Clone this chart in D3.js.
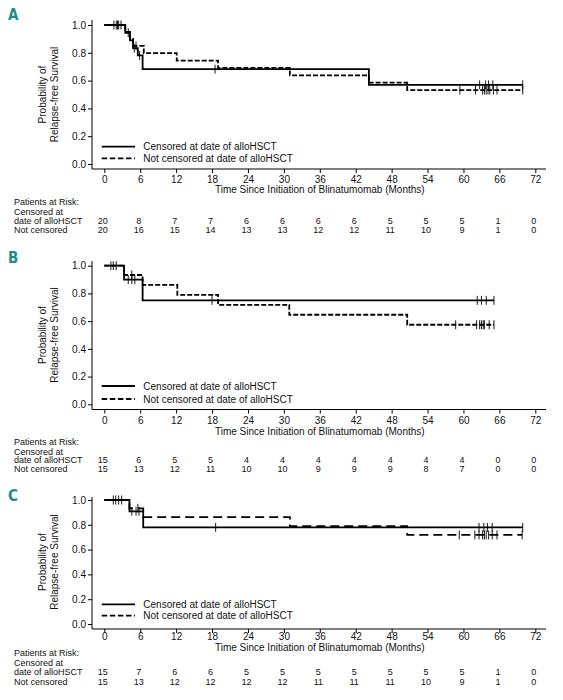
<!DOCTYPE html>
<html>
<head>
<meta charset="utf-8">
<script src="https://cdn.jsdelivr.net/npm/d3@7/dist/d3.min.js"></script>
<style>
  html, body { margin: 0; padding: 0; background: #fff; }
  svg { display: block; }
  text { font-family: "Liberation Sans", Arial, Helvetica, sans-serif; fill: #111; }
</style>
</head>
<body>
<script>
// ---------- DATA ----------
const xTicks = [0, 6, 12, 18, 24, 30, 36, 42, 48, 54, 60, 66, 72];
const yTicks = [0, 0.2, 0.4, 0.6, 0.8, 1.0];
const panelLetters = ["A", "B", "C"];
const legendLabels = ["Censored at date of alloHSCT", "Not censored at date of alloHSCT"];
const xTitle = "Time Since Initiation of Blinatumomab (Months)";
const yTitle = ["Probability of", "Relapse-free Survival"];
const riskHeader = "Patients at Risk:";
const riskRowLabels = [["Censored at", "date of alloHSCT"], ["Not censored"]];

// Panel A  (step: [time, survival after step])
const aSolidSteps = [[0, 1], [3.5, 0.944], [4.3, 0.889], [4.8, 0.833], [5.6, 0.781], [6.4, 0.683], [44.2, 0.569]];
const aSolidEnd = 69.9;
const aSolidCensor = [1.6, 2.0, 2.4, 2.8, 4.0, 5.0, 5.9, 18.5, 62.7, 63.7, 64.2, 64.9, 69.9];
const aDashSteps = [[0, 1], [3.5, 0.95], [4.3, 0.90], [4.8, 0.85], [6.6, 0.797], [12.1, 0.744], [19.0, 0.691], [31.0, 0.638], [44.2, 0.585], [50.6, 0.532]];
const aDashEnd = 69.9;
const aDashCensor = [2.2, 5.3, 59.4, 62.0, 63.2, 63.5, 63.8, 64.1, 64.4, 65.0, 65.6, 69.9];
const aRiskSolid = [20, 8, 7, 7, 6, 6, 6, 6, 5, 5, 5, 1, 0];
const aRiskDash = [20, 16, 15, 14, 13, 13, 12, 12, 11, 10, 9, 1, 0];

// Panel B
const bSolidSteps = [[0, 1], [3.3, 0.90], [6.4, 0.75]];
const bSolidEnd = 65.1;
const bSolidCensor = [1.1, 1.5, 2.0, 4.0, 4.6, 5.1, 18.0, 62.3, 63.0, 63.8, 65.1];
const bDashSteps = [[0, 1], [3.3, 0.933], [6.4, 0.862], [12.2, 0.79], [19.0, 0.718], [30.9, 0.646], [50.6, 0.574]];
const bDashEnd = 65.1;
const bDashCensor = [4.6, 58.7, 62.2, 62.7, 63.0, 63.3, 63.5, 64.3, 65.1];
const bRiskSolid = [15, 6, 5, 5, 4, 4, 4, 4, 4, 4, 4, 0, 0];
const bRiskDash = [15, 13, 12, 11, 10, 10, 9, 9, 9, 8, 7, 0, 0];

// Panel C
const cSolidSteps = [[0, 1], [4.2, 0.909], [6.5, 0.779]];
const cSolidEnd = 69.9;
const cSolidCensor = [1.5, 1.9, 2.4, 2.9, 4.6, 5.3, 5.8, 18.6, 62.6, 63.4, 64.0, 64.8, 69.9];
const cDashSteps = [[0, 1], [4.2, 0.933], [6.5, 0.862], [31.0, 0.79], [50.6, 0.718]];
const cDashEnd = 69.8;
const cDashCensor = [5.6, 59.3, 61.9, 62.6, 63.2, 63.5, 63.8, 64.2, 64.8, 65.6, 69.8];
const cRiskSolid = [15, 7, 6, 6, 5, 5, 5, 5, 5, 5, 5, 1, 0];
const cRiskDash = [15, 13, 12, 12, 12, 12, 11, 11, 11, 10, 9, 1, 0];

// ---------- LAYOUT ----------
const W = 563, H = 700;
const X0 = 104.3, X72 = 535.3, YAXIS_X = 92, XAXIS_END = 546;
const layouts = [
  { letterY: 14.5, yTop: 20, y1: 25, y0: 164, axisY: 169, tickY: 179.3, titleY: 189.5, parY: 201.7, cenY: 211.7, dateY: 220.5, ncY: 230, legY1: 146.7, legY2: 158.3, dash: "5,2" },
  { letterY: 257.5, yTop: 261, y1: 265.7, y0: 404.3, axisY: 409.5, tickY: 420.5, titleY: 431, parY: 441.7, cenY: 451.7, dateY: 460.3, ncY: 468.8, legY1: 386, legY2: 399, dash: "5,2" },
  { letterY: 495.8, yTop: 497, y1: 500, y0: 624, axisY: 629, tickY: 636.5, titleY: 647, parY: 653, cenY: 662.5, dateY: 671.5, ncY: 681.5, legY1: 604.3, legY2: 615.7, dash: "9,5" }
];

const panels = [
  { solid: aSolidSteps, solidEnd: aSolidEnd, solidC: aSolidCensor, dash: aDashSteps, dashEnd: aDashEnd, dashC: aDashCensor, riskS: aRiskSolid, riskD: aRiskDash },
  { solid: bSolidSteps, solidEnd: bSolidEnd, solidC: bSolidCensor, dash: bDashSteps, dashEnd: bDashEnd, dashC: bDashCensor, riskS: bRiskSolid, riskD: bRiskDash },
  { solid: cSolidSteps, solidEnd: cSolidEnd, solidC: cSolidCensor, dash: cDashSteps, dashEnd: cDashEnd, dashC: cDashCensor, riskS: cRiskSolid, riskD: cRiskDash }
];

const svg = d3.select("body").append("svg").attr("width", W).attr("height", H);
svg.append("rect").attr("width", W).attr("height", H).attr("fill", "#fff");

function survAt(steps, t) {
  let v = steps[0][1];
  for (const s of steps) { if (s[0] <= t) v = s[1]; }
  return v;
}

panels.forEach((p, i) => {
  const L = layouts[i];
  const g = svg.append("g");
  const x = d3.scaleLinear().domain([0, 72]).range([X0, X72]);
  const y = d3.scaleLinear().domain([0, 1]).range([L.y0, L.y1]);

  // panel letter
  g.append("text").attr("x", 8).attr("y", L.letterY).attr("dy", "0.36em")
    .style("font-family", '"Liberation Sans Narrow","DejaVu Sans Condensed","DejaVu Sans",sans-serif')
    .style("font-stretch", "condensed")
    .style("font-weight", "bold").style("font-size", "15px").style("fill", "#1f8c8a")
    .text(panelLetters[i]);

  // y axis
  const ya = g.append("g").attr("transform", `translate(${YAXIS_X},0)`)
    .call(d3.axisLeft(y).tickValues(yTicks).tickFormat(d3.format(".1f")).tickSize(4).tickPadding(2));
  ya.select(".domain").remove();
  ya.selectAll("line").attr("stroke", "#000");
  ya.selectAll("text").style("font-size", "10px").style("font-family", '"Liberation Sans", Arial, sans-serif').attr("fill", "#111");
  g.append("line").attr("x1", YAXIS_X).attr("x2", YAXIS_X).attr("y1", L.yTop).attr("y2", L.axisY).attr("stroke", "#000").attr("stroke-width", 1);

  // x axis
  const xa = g.append("g").attr("transform", `translate(0,${L.axisY})`)
    .call(d3.axisBottom(x).tickValues(xTicks).tickFormat(d3.format("d")).tickSize(4).tickPadding(0));
  xa.select(".domain").remove();
  xa.selectAll("line").attr("stroke", "#000");
  xa.selectAll("text").attr("y", L.tickY - L.axisY).attr("dy", "0.35em")
    .style("font-size", "10px").style("font-family", '"Liberation Sans", Arial, sans-serif').attr("fill", "#111");
  g.append("line").attr("x1", YAXIS_X).attr("x2", XAXIS_END).attr("y1", L.axisY).attr("y2", L.axisY).attr("stroke", "#000").attr("stroke-width", 1);

  // x title
  g.append("text").attr("x", x(36)).attr("y", L.titleY).attr("dy", "0.35em").attr("text-anchor", "middle")
    .style("font-size", "10px").text(xTitle);

  // y title
  const yc = (L.y0 + L.y1) / 2;
  g.append("text").attr("transform", `translate(42,${yc}) rotate(-90)`).attr("text-anchor", "middle").attr("dy", "0.35em")
    .style("font-size", "10px").text(yTitle[0]);
  g.append("text").attr("transform", `translate(54,${yc}) rotate(-90)`).attr("text-anchor", "middle").attr("dy", "0.35em")
    .style("font-size", "10px").text(yTitle[1]);

  // curves
  const line = d3.line().x(d => x(d[0])).y(d => y(d[1])).curve(d3.curveStepAfter);
  const series = [
    { steps: p.solid, end: p.solidEnd, cens: p.solidC, dash: null },
    { steps: p.dash, end: p.dashEnd, cens: p.dashC, dash: L.dash }
  ];
  series.forEach(s => {
    const pts = s.steps.concat([[s.end, s.steps[s.steps.length - 1][1]]]);
    g.append("path").attr("d", line(pts)).attr("fill", "none").attr("stroke", "#000")
      .attr("stroke-width", 1.8).attr("stroke-dasharray", s.dash);
    g.selectAll(null).data(s.cens).enter().append("line")
      .attr("x1", d => x(d)).attr("x2", d => x(d))
      .attr("y1", d => y(survAt(s.steps, d)) - 4.5).attr("y2", d => y(survAt(s.steps, d)) + 4.5)
      .attr("stroke", "#000").attr("stroke-width", 0.9);
  });

  // legend
  g.append("line").attr("x1", 101.7).attr("x2", 135).attr("y1", L.legY1).attr("y2", L.legY1)
    .attr("stroke", "#000").attr("stroke-width", 1.8);
  g.append("line").attr("x1", 101.7).attr("x2", 135).attr("y1", L.legY2).attr("y2", L.legY2)
    .attr("stroke", "#000").attr("stroke-width", 1.8).attr("stroke-dasharray", "5.5,2.6");
  g.append("text").attr("x", 143.3).attr("y", L.legY1).attr("dy", "0.35em").style("font-size", "10px").text(legendLabels[0]);
  g.append("text").attr("x", 143.3).attr("y", L.legY2).attr("dy", "0.35em").style("font-size", "10px").text(legendLabels[1]);

  // risk table
  g.append("text").attr("x", 14).attr("y", L.parY).attr("dy", "0.35em").style("font-size", "9px").text(riskHeader);
  g.append("text").attr("x", 14).attr("y", L.cenY).attr("dy", "0.35em").style("font-size", "9px").text(riskRowLabels[0][0]);
  g.append("text").attr("x", 14).attr("y", L.dateY).attr("dy", "0.35em").style("font-size", "9px").text(riskRowLabels[0][1]);
  g.append("text").attr("x", 14).attr("y", L.ncY).attr("dy", "0.35em").style("font-size", "9px").text(riskRowLabels[1][0]);
  g.selectAll(null).data(p.riskS).enter().append("text")
    .attr("x", (d, k) => x(xTicks[k]) - 1.5).attr("y", L.dateY).attr("dy", "0.35em").attr("text-anchor", "middle")
    .style("font-size", "9px").text(d => d);
  g.selectAll(null).data(p.riskD).enter().append("text")
    .attr("x", (d, k) => x(xTicks[k]) - 1.5).attr("y", L.ncY).attr("dy", "0.35em").attr("text-anchor", "middle")
    .style("font-size", "9px").text(d => d);
});
</script>
</body>
</html>
